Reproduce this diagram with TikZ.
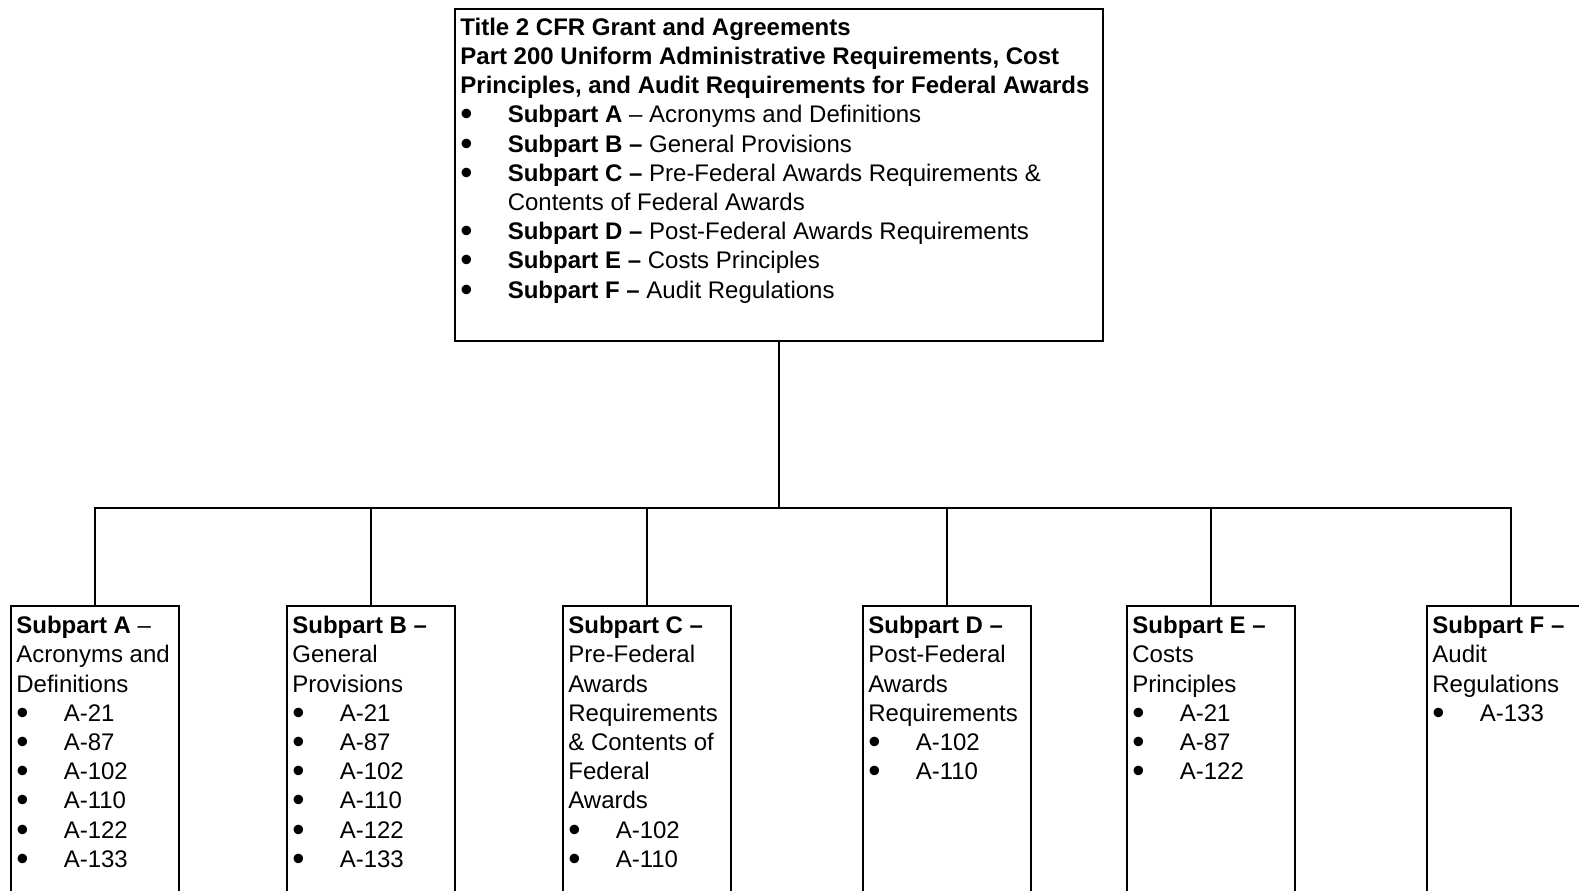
\documentclass[tikz,border=0pt]{standalone}
\usepackage{fontspec}
\setmainfont{Liberation Sans}
\usetikzlibrary{positioning}

\newlength{\bulind}\setlength{\bulind}{23.7pt}
\newcommand{\bul}[1]{\makebox[\bulind][l]{\smash{\raisebox{-1.5pt}{\scalebox{1.45}{\textbullet}}}}#1}

\tikzset{
  boxframe/.style={draw, line width=0.8pt, inner sep=0pt, anchor=north west, minimum width=84pt, minimum height=160pt},
  boxtext/.style={anchor=north west, align=left, inner sep=0pt, font=\fontsize{12}{14.6}\selectfont},
  elbow/.style={to path={-- (\tikztostart |- bar) -| (\tikztotarget)}}
}

\begin{document}
\begin{tikzpicture}[x=0.5pt,y=-0.5pt]
  \useasboundingbox (0,0) rectangle (1579,890);
  \clip (0,0) rectangle (1579,890);

  \draw (454,8) node[boxframe, minimum width=324pt, minimum height=166pt] (title) {};
    \node[boxtext] (titletext) at ([xshift=3pt,yshift=-4.7pt]title.north west)
      {\textbf{Title 2 CFR Grant and Agreements}\\
       \textbf{Part 200 Uniform Administrative Requirements, Cost}\\
       \textbf{Principles, and Audit Requirements for Federal Awards}\\
       \bul{\textbf{Subpart A} -- Acronyms and Definitions}\\
       \bul{\textbf{Subpart B --} General Provisions}\\
       \bul{\textbf{Subpart C --} Pre-Federal Awards Requirements \&}\\
       \hspace*{\bulind}Contents of Federal Awards\\
       \bul{\textbf{Subpart D --} Post-Federal Awards Requirements}\\
       \bul{\textbf{Subpart E --} Costs Principles}\\
       \bul{\textbf{Subpart F --} Audit Regulations}};

  \coordinate (bar) at (778,508);

  \draw (10,605) node[boxframe] (subA) {};
    \node[boxtext] (textA) at ([xshift=3pt,yshift=-5.4pt]subA.north west)
      {\textbf{Subpart A} --\\ Acronyms and\\ Definitions\\
       \bul{A-21}\\ \bul{A-87}\\ \bul{A-102}\\ \bul{A-110}\\ \bul{A-122}\\ \bul{A-133}};
  \draw (286,605) node[boxframe] (subB) {};
    \node[boxtext] (textB) at ([xshift=3pt,yshift=-5.4pt]subB.north west)
      {\textbf{Subpart B --}\\ General\\ Provisions\\
       \bul{A-21}\\ \bul{A-87}\\ \bul{A-102}\\ \bul{A-110}\\ \bul{A-122}\\ \bul{A-133}};
  \draw (562,605) node[boxframe] (subC) {};
    \node[boxtext] (textC) at ([xshift=3pt,yshift=-5.4pt]subC.north west)
      {\textbf{Subpart C --}\\ Pre-Federal\\ Awards\\ Requirements\\ \& Contents of\\ Federal\\ Awards\\
       \bul{A-102}\\ \bul{A-110}};
  \draw (862,605) node[boxframe] (subD) {};
    \node[boxtext] (textD) at ([xshift=3pt,yshift=-5.4pt]subD.north west)
      {\textbf{Subpart D --}\\ Post-Federal\\ Awards\\ Requirements\\
       \bul{A-102}\\ \bul{A-110}};
  \draw (1126,605) node[boxframe] (subE) {};
    \node[boxtext] (textE) at ([xshift=3pt,yshift=-5.4pt]subE.north west)
      {\textbf{Subpart E --}\\ Costs\\ Principles\\
       \bul{A-21}\\ \bul{A-87}\\ \bul{A-122}};
  \draw (1426,605) node[boxframe] (subF) {};
    \node[boxtext] (textF) at ([xshift=3pt,yshift=-5.4pt]subF.north west)
      {\textbf{Subpart F --}\\ Audit\\ Regulations\\
       \bul{A-133}};

  \foreach \sub in {subA,subB,subC,subD,subE,subF}
    \path[-, line width=0.8pt] (title.south) edge[elbow] (\sub.north);

\end{tikzpicture}
\end{document}
